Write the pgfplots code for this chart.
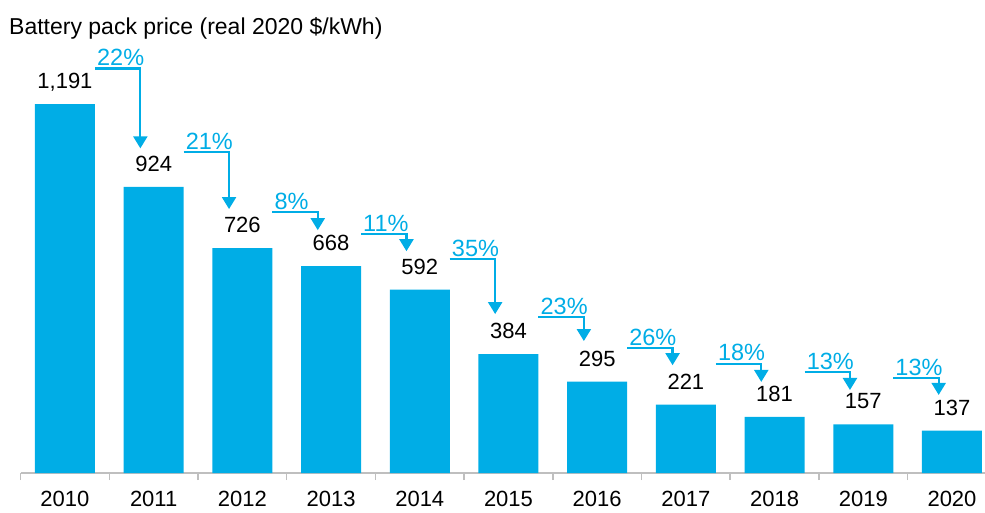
\documentclass[border=0pt]{standalone}
\usepackage{pgfplots}
\pgfplotsset{compat=1.18}
\usepackage{fontspec}
\setmainfont{Liberation Sans}
\usetikzlibrary{arrows.meta}
\definecolor{barblue}{RGB}{0,173,230}
\definecolor{axgray}{RGB}{191,191,191}
\newcommand{\drop}[5]{%
  \draw[barblue, line width=2.2pt, -{Triangle[width=14pt,length=12pt]}]
    (axis cs:#1,#3) -- (axis cs:#2,#3) -- (axis cs:#2,#4);
  \node[barblue, anchor=base west, font=\fontsize{23.5}{28}\selectfont, inner sep=0pt, xshift=2pt, yshift=3pt]
    at (axis cs:#1,#3) {#5\%};
}
\begin{document}
\begin{tikzpicture}
\path[use as bounding box] (0,0) rectangle (985pt,512pt);
\node[anchor=base west, inner sep=0pt, font=\fontsize{23}{27}\selectfont] at (9pt,477pt) {Battery pack price (real 2020 \$/kWh)};
\begin{axis}[
  at={(20.6pt,39pt)}, anchor=south west,
  scale only axis, width=964.2pt, height=418.2pt,
  xmin=-0.5, xmax=10.37, ymin=0, ymax=1350,
  enlargelimits=false, clip=false,
  axis x line*=bottom, axis y line=none,
  x axis line style={axgray, line width=1.5pt},
  xtick={0,...,10},
  xticklabels={2010,2011,2012,2013,2014,2015,2016,2017,2018,2019,2020},
  major tick length=0pt,
  minor xtick={-0.5,0.5,...,9.5},
  minor tick length=7pt,
  tick align=outside,
  minor tick style={axgray, line width=1.5pt},
  xticklabel style={anchor=base, yshift=-33pt, font=\fontsize{22}{26}\selectfont},
  ybar, bar width=60pt,
  /pgf/number format/assume math mode=true,
  /pgf/number format/1000 sep={,},
  nodes near coords,
  every node near coord/.append style={anchor=base, yshift=15.5pt, black, font=\fontsize{22}{26}\selectfont},
]
\addplot[fill=barblue, draw=none, bar shift=0pt] coordinates {
 (0,1191) (1,924) (2,726) (3,668) (4,592) (5,384) (6,295) (7,221) (8,181) (9,157) (10,137)};
\drop{0.338}{0.85}{1306}{1048}{22}
\drop{1.338}{1.85}{1035}{852}{21}
\drop{2.338}{2.85}{842}{784}{8}
\drop{3.338}{3.85}{771}{716}{11}
\drop{4.338}{4.85}{690}{513}{35}
\drop{5.338}{5.85}{503}{426}{23}
\drop{6.338}{6.85}{403}{348}{26}
\drop{7.338}{7.85}{352}{294}{18}
\drop{8.338}{8.85}{326}{268}{13}
\drop{9.338}{9.85}{306}{252}{13}
\end{axis}
\end{tikzpicture}
\end{document}
